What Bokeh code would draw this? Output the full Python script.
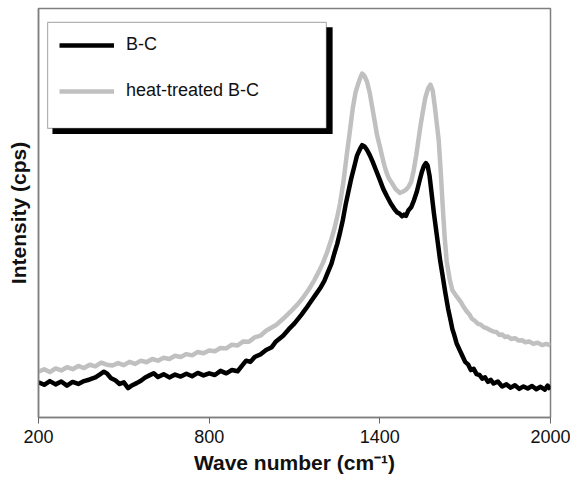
from bokeh.plotting import figure
from bokeh.models import Legend, LegendItem, BoxAnnotation, FixedTicker, Range1d
from bokeh.embed import file_html
from bokeh.resources import INLINE

# B-C spectrum (wave number in cm-1, intensity in arbitrary units)
bc_x = [200, 220, 240, 260, 280, 300, 320, 340, 360, 380, 400, 415, 430, 440, 455, 470, 485, 500,
        515, 530, 545, 560, 575, 590, 605, 620, 640, 660, 680, 700, 720, 740, 760, 780, 800, 820,
        840, 860, 880, 900, 915, 930, 945, 960, 980, 1000, 1020, 1035, 1060, 1080, 1100, 1124,
        1140, 1160, 1175, 1190, 1205, 1215, 1230, 1240, 1250, 1260, 1270, 1280, 1290, 1300, 1310,
        1320, 1330, 1338, 1347, 1355, 1365, 1375, 1388, 1400, 1412, 1425, 1438, 1450, 1460, 1470,
        1478, 1485, 1492, 1500, 1510, 1520, 1530, 1540, 1548, 1555, 1562, 1568, 1575, 1582, 1590,
        1598, 1605, 1612, 1620, 1630, 1640, 1648, 1655, 1662, 1670, 1680, 1690, 1700, 1710, 1720,
        1730, 1740, 1750, 1760, 1770, 1780, 1790, 1800, 1815, 1830, 1845, 1860, 1875, 1890, 1905,
        1920, 1935, 1950, 1965, 1980, 1990, 2000]
bc_y = [8.6, 8.0, 8.9, 8.1, 8.8, 7.8, 8.7, 8.2, 8.9, 9.3, 9.8, 10.5, 11.2, 10.8, 9.6, 9.1, 8.2, 8.6,
        7.2, 7.9, 8.4, 9.0, 9.8, 10.3, 10.8, 9.9, 10.6, 9.8, 10.5, 10.0, 10.7, 10.1, 10.9, 10.3, 10.8, 10.4,
        11.4, 10.8, 11.6, 11.3, 12.6, 13.9, 13.6, 14.8, 15.4, 16.5, 17.2, 18.6, 20.0, 21.6, 23.0, 25.1,
        26.6, 28.6, 30.1, 31.6, 33.4, 35.1, 37.6, 40.1, 42.4, 45.2, 48.3, 52.1, 55.4, 58.6, 61.3,
        64.1, 65.6, 66.6, 66.2, 65.4, 64.1, 62.5, 60.2, 58.1, 55.9, 54.1, 52.4, 51.1, 50.2, 49.8,
        49.2, 49.6, 49.3, 50.6, 51.4, 53.1, 55.2, 58.0, 60.1, 61.5, 62.2, 61.6, 59.0, 54.8, 50.0,
        45.8, 42.1, 38.4, 35.0, 30.6, 26.6, 24.0, 21.6, 20.1, 18.1, 16.6, 15.1, 13.6, 13.0, 11.6,
        11.9, 10.6, 10.4, 9.5, 9.8, 8.7, 9.2, 8.3, 8.8, 7.6, 8.1, 7.3, 7.9, 7.0, 7.6,
        7.1, 7.7, 6.9, 7.5, 6.8, 7.8, 6.9]

# heat-treated B-C spectrum
ht_x = [200, 220, 240, 260, 280, 300, 320, 340, 360, 380, 400, 420, 440, 460, 480, 500, 520, 540,
        560, 580, 600, 620, 640, 660, 680, 700, 720, 740, 760, 780, 800, 820, 840, 860, 880, 900,
        920, 940, 960, 980, 1000, 1035, 1061, 1085, 1110, 1130, 1150, 1170, 1185, 1200, 1213, 1228,
        1240, 1250, 1260, 1272, 1283, 1295, 1305, 1315, 1325, 1332, 1338, 1346, 1355, 1365, 1374,
        1382, 1390, 1400, 1408, 1416, 1425, 1433, 1442, 1455, 1470, 1480, 1490, 1500, 1510, 1519,
        1528, 1536, 1544, 1552, 1560, 1570, 1578, 1586, 1593, 1600, 1607, 1614, 1622, 1628, 1635,
        1645, 1655, 1670, 1685, 1695, 1705, 1715, 1723, 1735, 1745, 1755, 1765, 1777, 1787, 1800,
        1810, 1820, 1830, 1840, 1850, 1862, 1875, 1888, 1900, 1912, 1925, 1940, 1955, 1970, 1985,
        2000]
ht_y = [11.2, 11.8, 11.1, 12.0, 11.5, 12.3, 11.8, 12.6, 12.1, 12.9, 12.5, 13.4, 12.9, 12.7, 13.3, 12.8, 13.6, 13.1,
        13.9, 13.5, 14.3, 13.9, 14.6, 14.3, 15.1, 14.8, 15.5, 15.2, 16.0, 15.7, 16.4, 16.2, 17.0, 16.9, 17.8, 17.6,
        18.6, 18.5, 19.6, 20.0, 21.2, 22.6, 24.2, 25.8, 27.6, 29.3, 31.3, 33.6, 35.6, 37.8, 40.1, 43.2,
        46.1, 49.0, 52.3, 57.6, 63.8, 70.2, 75.7, 79.6, 81.8, 83.2, 84.1, 83.5, 82.1, 79.2, 75.6,
        72.4, 69.1, 66.3, 63.9, 61.6, 59.6, 58.3, 57.4, 55.9, 54.9, 55.2, 55.6, 56.3, 57.6, 60.4,
        64.1, 68.0, 71.8, 75.1, 78.2, 80.5, 81.4, 79.9, 76.2, 72.0, 67.8, 60.2, 50.6, 44.0, 38.2,
        34.0, 31.1, 29.6, 28.2, 27.0, 26.0, 25.2, 24.2, 23.6, 22.9, 22.7, 22.1, 21.8, 21.4, 21.0,
        20.9, 20.2, 20.3, 19.7, 19.8, 19.2, 19.4, 18.8, 18.9, 18.4, 18.6, 18.0, 18.3, 17.7, 18.0,
        17.6]

series_labels = ["B-C", "heat-treated B-C"]
series_colors = ["#000000", "#c0c0c0"]
x_ticks = [200, 800, 1400, 2000]

FONT = "Liberation Sans"

p = figure(width=570, height=476, output_backend="svg", toolbar_location=None,
           title=None, x_range=Range1d(200, 2000), y_range=Range1d(0, 100),
           min_border_left=38, min_border_right=20, min_border_top=8, min_border_bottom=0)
p.background_fill_color = "white"
p.border_fill_color = "white"
p.outline_line_color = "#7f7f7f"
p.outline_line_width = 1.5
p.xgrid.visible = False
p.ygrid.visible = False

# legend frame with drop shadow (decoration, in data units of the fixed ranges)
shadow = BoxAnnotation(left=249, right=1234, top=95.4, bottom=69.3,
                       fill_color="black", fill_alpha=1.0, line_alpha=0)
frame = BoxAnnotation(left=232, right=1212, top=96.6, bottom=70.7,
                      fill_color="white", fill_alpha=1.0, line_color="black", line_width=1.2)
p.add_layout(shadow)
p.add_layout(frame)

r_ht = p.line(ht_x, ht_y, line_color=series_colors[1], line_width=4.5, line_join="round")
r_bc = p.line(bc_x, bc_y, line_color=series_colors[0], line_width=4.5, line_join="round")

p.xaxis.ticker = FixedTicker(ticks=x_ticks)
p.xaxis.minor_tick_line_color = None
p.xaxis.major_tick_in = 0
p.xaxis.major_tick_out = 6
p.xaxis.major_tick_line_color = "#666666"
p.xaxis.axis_line_color = "#7f7f7f"
p.xaxis.axis_line_width = 1.5
p.xaxis.major_label_text_font = FONT
p.xaxis.major_label_text_font_size = "18px"
p.xaxis.major_label_text_color = "#111111"
p.xaxis.major_label_standoff = 6
p.xaxis.axis_label = "Wave number (cm\u207b\u00b9)"
p.xaxis.axis_label_text_font = FONT
p.xaxis.axis_label_text_font_size = "21px"
p.xaxis.axis_label_text_font_style = "bold"
p.xaxis.axis_label_text_color = "#111111"
p.xaxis.axis_label_standoff = 5

p.yaxis.ticker = FixedTicker(ticks=[])
p.yaxis.minor_tick_line_color = None
p.yaxis.major_tick_line_color = None
p.yaxis.axis_line_color = "#7f7f7f"
p.yaxis.axis_line_width = 1.5
p.yaxis.axis_label = "Intensity (cps)"
p.yaxis.axis_label_text_font = FONT
p.yaxis.axis_label_text_font_size = "21px"
p.yaxis.axis_label_text_font_style = "bold"
p.yaxis.axis_label_text_color = "#111111"
p.yaxis.axis_label_standoff = 9

legend = Legend(items=[LegendItem(label=series_labels[0], renderers=[r_bc]),
                       LegendItem(label=series_labels[1], renderers=[r_ht])],
                location=(21, 316), padding=0, margin=0, spacing=25,
                glyph_width=55, glyph_height=20, label_height=20, label_standoff=12,
                label_text_font=FONT, label_text_font_size="18px", label_text_color="#111111",
                background_fill_alpha=0, border_line_alpha=0)
p.add_layout(legend)

open("out.html", "w").write(file_html(p, INLINE))
